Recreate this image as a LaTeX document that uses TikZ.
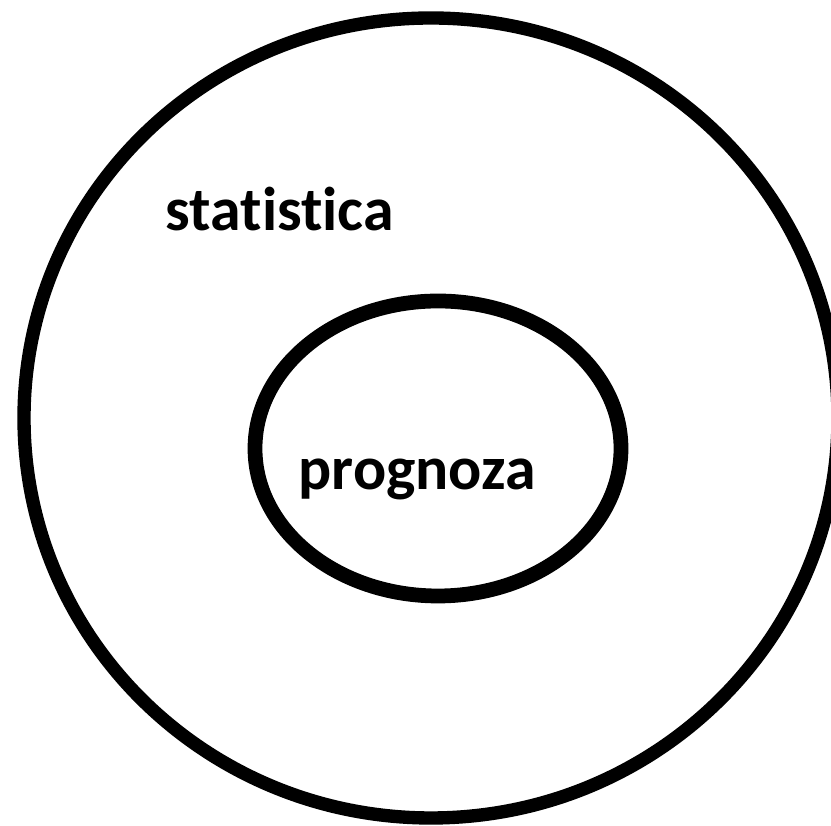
\documentclass[tikz,border=0pt]{standalone}
\usepackage{fontspec}
\setmainfont[Ligatures={NoCommon,NoRare}]{Carlito}
\usepackage{tikz}

\begin{document}
\begin{tikzpicture}
        \useasboundingbox [fill=white] (0,0) rectangle (8.31,8.26);
        \draw [line width=3.8pt] (4.31,4.08) ellipse [x radius=4.07, y radius=4.00];
        \draw [line width=4.2pt] (4.38,3.775) ellipse [x radius=1.83, y radius=1.475];
    \node (stat) [anchor=base west, inner sep=0pt] at (1.65,5.95) {\fontsize{17.6}{20}\selectfont\bfseries statistica};
    \node (prog) [anchor=base west, inner sep=0pt] at (2.98,3.36) {\fontsize{17.6}{20}\selectfont\bfseries prognoza};
  \end{tikzpicture}
\end{document}
